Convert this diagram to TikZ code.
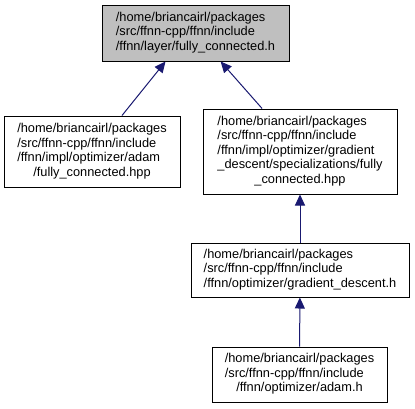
\documentclass[tikz,border=0pt]{standalone}
\usepackage{fontspec}
\setmainfont{Liberation Sans}
\usetikzlibrary{arrows.meta}
\tikzset{
  file/.style={draw, line width=1pt, inner sep=0pt, font=\fontsize{12.8}{14.5}\selectfont},
  dep/.style={draw={rgb,255:red,25;green,25;blue,112}, line width=1pt,
    {Triangle[length=11pt,width=10pt,fill={rgb,255:red,25;green,25;blue,112}]}-},
}
\newcommand{\lastc}[1]{\multicolumn{1}{@{}c@{}}{#1}}
\begin{document}
\begin{tikzpicture}[x=1pt, y=-1pt]
  \useasboundingbox (0,0) rectangle (415,408);
  \node [file, minimum width=187pt, minimum height=56pt, fill={rgb,255:red,191;green,191;blue,191}] (layer) at (195.5, 33) {\begin{tabular}{@{}l@{}}/home/briancairl/packages\\/src/ffnn-cpp/ffnn/include\\/ffnn/layer/fully\_connected.h\end{tabular}};
  \node [file, minimum width=176pt, minimum height=71pt] (adamfc) at (92, 151.5) {\begin{tabular}{@{}l@{}}/home/briancairl/packages\\/src/ffnn-cpp/ffnn/include\\/ffnn/impl/optimizer/adam\\\lastc{/fully\_connected.hpp}\end{tabular}};
  \node [file, minimum width=194pt, minimum height=85pt] (gdfc) at (300, 151.5) {\begin{tabular}{@{}l@{}}/home/briancairl/packages\\/src/ffnn-cpp/ffnn/include\\/ffnn/impl/optimizer/gradient\\\_descent/specializations/fully\\\lastc{\_connected.hpp}\end{tabular}};
  \node [file, minimum width=218pt, minimum height=54pt] (gd) at (300, 270) {\begin{tabular}{@{}l@{}}/home/briancairl/packages\\/src/ffnn-cpp/ffnn/include\\/ffnn/optimizer/gradient\_descent.h\end{tabular}};
  \node [file, minimum width=175pt, minimum height=55pt] (adam) at (299.5, 374.5) {\begin{tabular}{@{}l@{}}/home/briancairl/packages\\/src/ffnn-cpp/ffnn/include\\\lastc{/ffnn/optimizer/adam.h}\end{tabular}};
  \draw [dep] ([xshift=-30pt]layer.south) -- ([xshift=30pt]adamfc.north);
  \draw [dep] (layer) -- (gdfc);
  \draw [dep] (gdfc) -- (gd);
  \draw [dep] (gd) -- (adam);
\end{tikzpicture}
\end{document}
